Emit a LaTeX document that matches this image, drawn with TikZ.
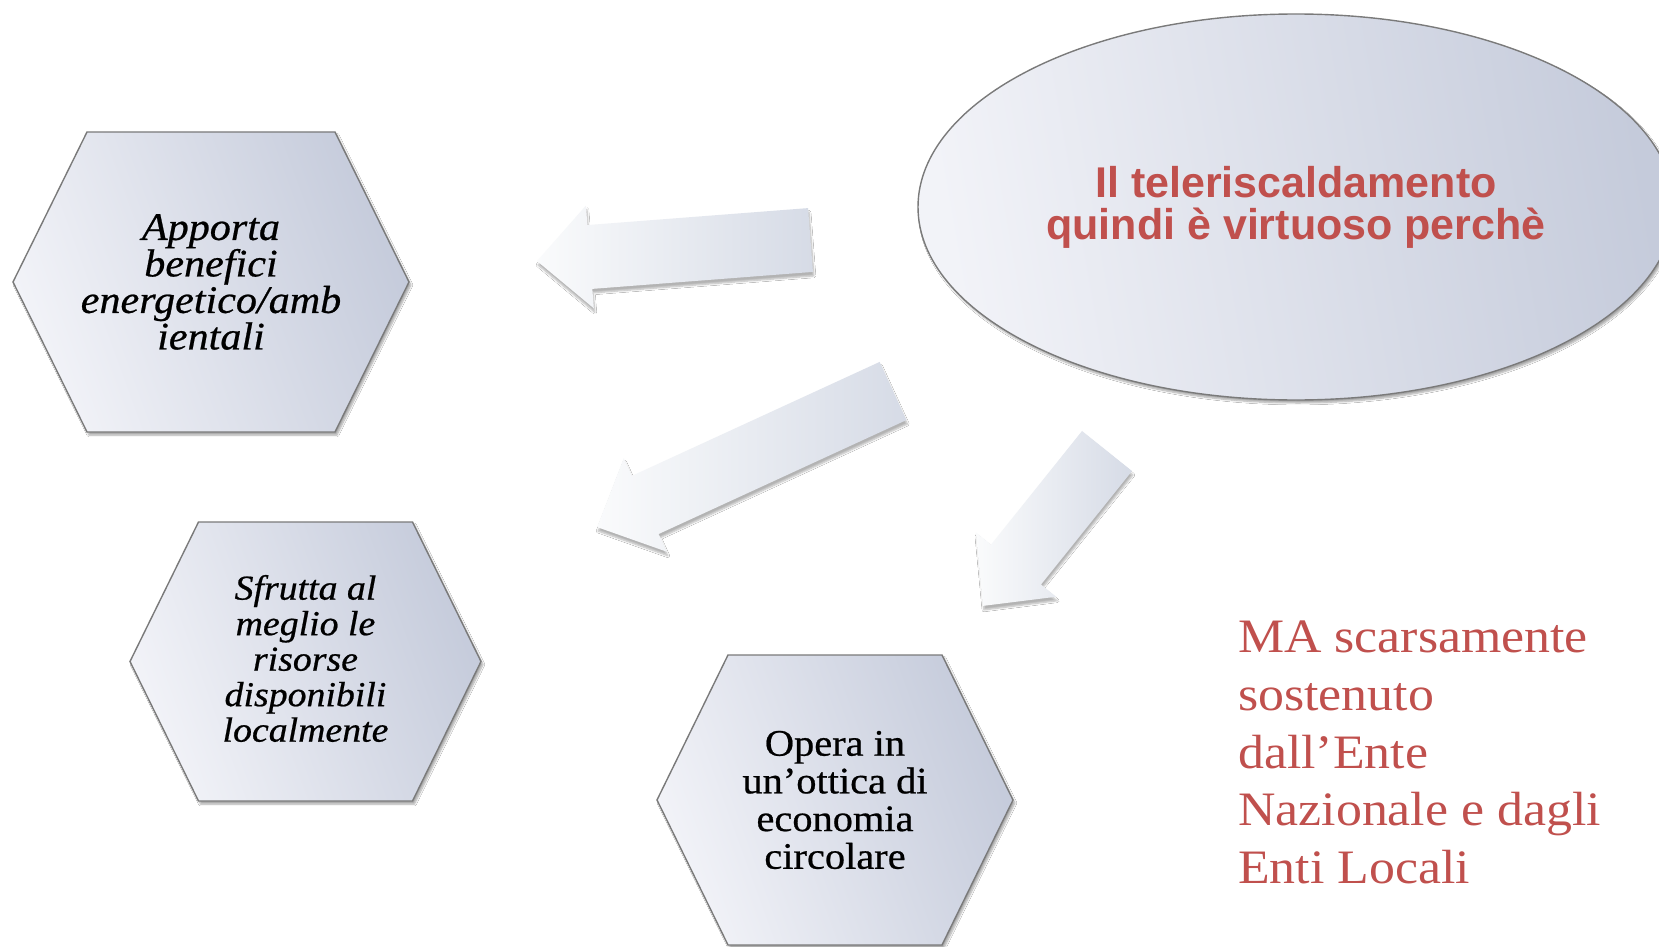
\documentclass[tikz,border=0pt]{standalone}
\usepackage{fontspec}
\setmainfont{Liberation Serif}[FakeStretch=1.08]
\newfontfamily\hexfont{Liberation Serif}[FakeStretch=1.08, FakeBold=0.6]
\newfontfamily\headfont{Liberation Sans}
\usetikzlibrary{shapes.geometric,shadows,shadows.blur,calc}
\definecolor{hexlight}{HTML}{F2F3F8}
\definecolor{hexdark}{HTML}{C5CBDB}
\definecolor{hexborder}{HTML}{7A7A7A}
\definecolor{arrowlight}{HTML}{FAFBFC}
\definecolor{arrowdark}{HTML}{D6DBE6}
\definecolor{redtext}{RGB}{192,80,77}
\tikzset{
  hexbox/.style={draw=hexborder, line width=1.4pt, left color=hexlight, right color=hexdark, shading angle=110,
    blur shadow={shadow blur steps=6, shadow xshift=2pt, shadow yshift=-3pt, shadow opacity=35}},
  hextext/.style={align=center, text=black, inner sep=0pt},
  arrowboxL/.style={left color=arrowlight, right color=arrowdark, draw=none,
    blur shadow={shadow blur steps=6, shadow xshift=1pt, shadow yshift=-4pt, shadow opacity=30}},
  ellbox/.style={ellipse, draw=hexborder, line width=1.4pt, left color=hexlight, right color=hexdark, shading angle=100,
    minimum width=756pt, minimum height=386pt, inner sep=0pt,
    blur shadow={shadow blur steps=6, shadow xshift=2pt, shadow yshift=-3pt, shadow opacity=35}},
}
\newcommand\blockarrow[3]{%
  \path[arrowboxL, shift={#1}, rotate=#2] (0,-32) -- ({#3-53},-32) -- ({#3-53},-51.5) -- (#3,0)
    -- ({#3-53},51.5) -- ({#3-53},32) -- (0,32) -- cycle;}
\begin{document}
\begin{tikzpicture}[x=1pt,y=-1pt]
\fill[white] (0,0) rectangle (1659,947);
\useasboundingbox (0,0) rectangle (1659,947);

% ellipse
\node[ellbox, text=redtext, align=center, font=\headfont\bfseries\fontsize{43}{42}\selectfont] (ell) at (1296,207)
  {Il teleriscaldamento\\quindi è virtuoso perchè};

% arrows
\blockarrow{(810.5,240)}{184.4}{274.3}
\blockarrow{(893,391)}{204.7}{325.7}
\blockarrow{(1107,451)}{231.3}{198.5}

% hexagon 1
\coordinate (c1) at (211,282);
\path[hexbox] (c1) ++(-198,0) -- ++(74,-150) -- ++(248,0) -- ++(74,150) -- ++(-74,150) -- ++(-248,0) -- cycle;
\node[hextext, font=\hexfont\itshape\fontsize{39}{36.5}\selectfont] (h1) at (c1)
  {Apporta\\benefici\\energetico/amb\\ientali};

% hexagon 2
\coordinate (c2) at (305.5,661.5);
\path[hexbox] (c2) ++(-175.5,0) -- ++(68.5,-139.5) -- ++(214,0) -- ++(68.5,139.5) -- ++(-68.5,139.5) -- ++(-214,0) -- cycle;
\node[hextext, font=\hexfont\itshape\fontsize{35}{35.5}\selectfont] (h2) at ($(c2)+(0,-3)$)
  {Sfrutta al\\meglio le\\risorse\\disponibili\\localmente};

% hexagon 3
\coordinate (c3) at (835,800);
\path[hexbox] (c3) ++(-178,0) -- ++(71,-145) -- ++(214,0) -- ++(71,145) -- ++(-71,145) -- ++(-214,0) -- cycle;
\node[hextext, font=\hexfont\fontsize{37.4}{37.7}\selectfont] (h3) at (c3)
  {Opera in\\un’ottica di\\economia\\circolare};

% red note
\node[anchor=north west, align=left, inner sep=0pt, text=redtext, font=\fontsize{48}{57.7}\selectfont] (ma) at (1238,621)
  {MA scarsamente\\sostenuto\\dall’Ente\\Nazionale e dagli\\Enti Locali};
\end{tikzpicture}
\end{document}
